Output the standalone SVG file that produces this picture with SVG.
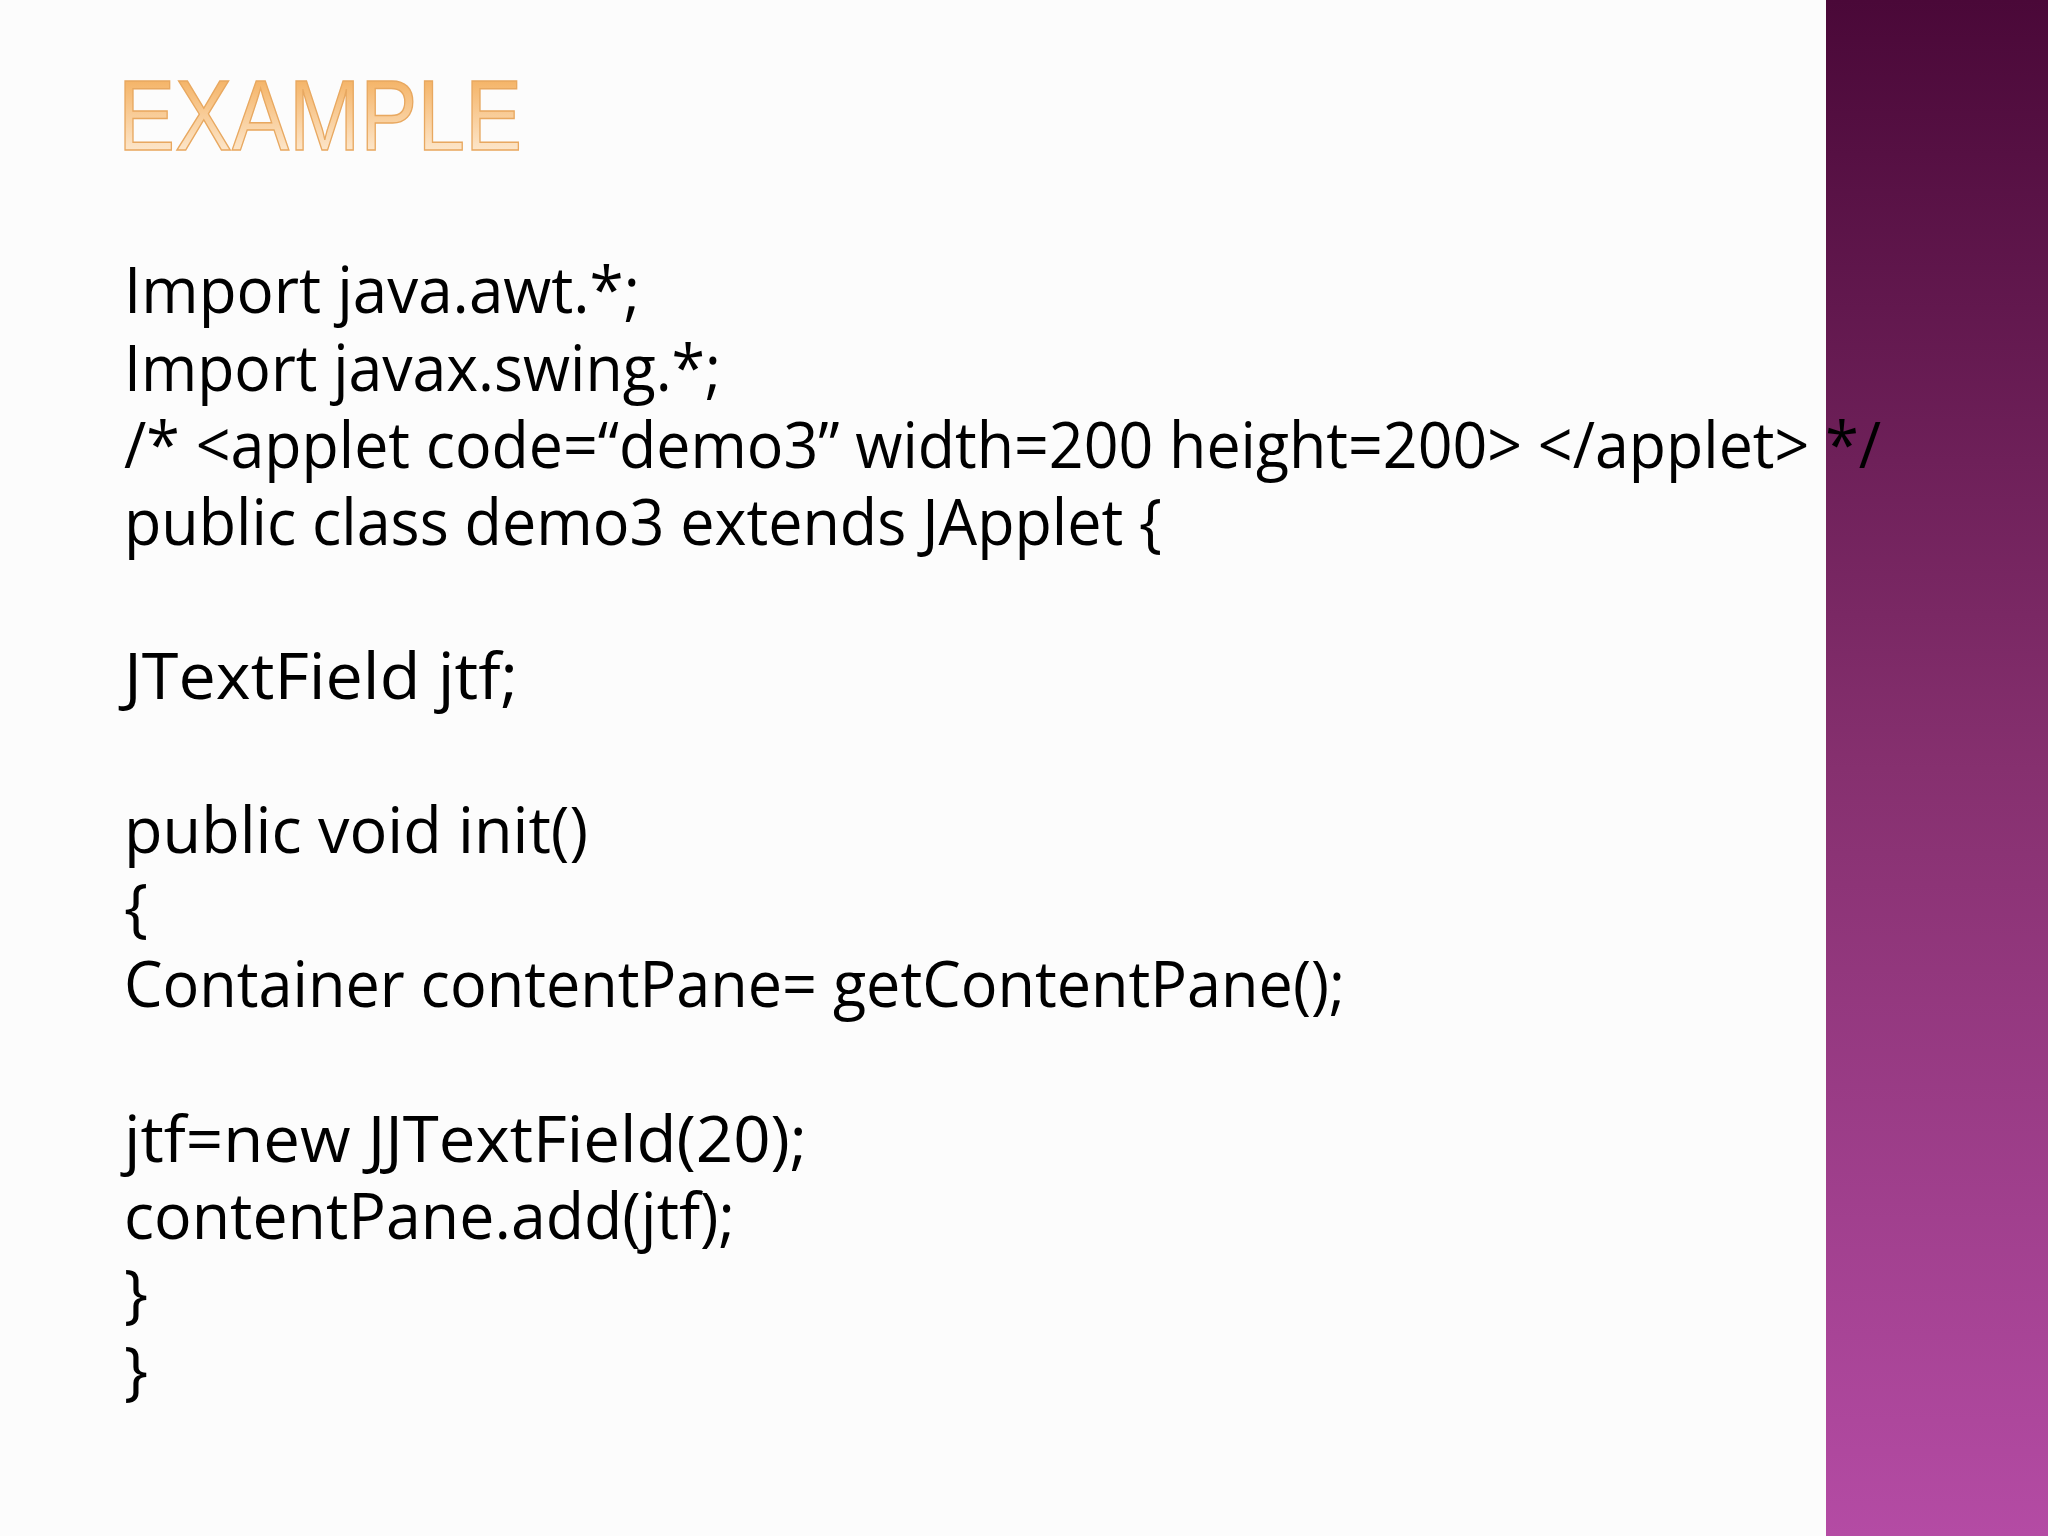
<svg xmlns="http://www.w3.org/2000/svg" width="2048" height="1536" viewBox="0 0 2048 1536">
<defs>
<linearGradient id="band" x1="0" y1="0" x2="0" y2="1">
<stop offset="0" stop-color="#4a0838"/>
<stop offset="0.5" stop-color="#86306f"/>
<stop offset="1" stop-color="#b44ba4"/>
</linearGradient>
<linearGradient id="title" x1="0" y1="0" x2="0" y2="1">
<stop offset="0" stop-color="#f2a54a"/>
<stop offset="1" stop-color="#fff4e6"/>
</linearGradient>
<style>
.code{font-family:"Open Sans","Liberation Sans",sans-serif;font-size:64px;fill:#000}
</style>
</defs>
<rect width="2048" height="1536" fill="#fcfcfc"/>
<rect x="1826" y="0" width="222" height="1536" fill="url(#band)"/>
<g id="title-node">
<text x="118" y="150" font-family="'Liberation Sans',sans-serif" font-size="100" fill="url(#title)" stroke="#e8a860" stroke-width="1.5" textLength="404" lengthAdjust="spacingAndGlyphs">EXAMPLE</text>
</g>
<g id="code">
<text class="code" x="124" y="313" textLength="516" lengthAdjust="spacingAndGlyphs">Import java.awt.*;</text>
<text class="code" x="124" y="391" textLength="597" lengthAdjust="spacingAndGlyphs">Import javax.swing.*;</text>
<text class="code" x="124" y="468" textLength="1757" lengthAdjust="spacingAndGlyphs">/* &lt;applet code=“demo3” width=200 height=200&gt; &lt;/applet&gt; */</text>
<text class="code" x="124" y="545" textLength="1038" lengthAdjust="spacingAndGlyphs">public class demo3 extends JApplet {</text>
<text class="code" x="124" y="699" textLength="394" lengthAdjust="spacingAndGlyphs">JTextField jtf;</text>
<text class="code" x="124" y="853" textLength="464" lengthAdjust="spacingAndGlyphs">public void init()</text>
<text class="code" x="124" y="930">{</text>
<text class="code" x="124" y="1007" textLength="1221" lengthAdjust="spacingAndGlyphs">Container contentPane=  getContentPane();</text>
<text class="code" x="124" y="1162" textLength="683" lengthAdjust="spacingAndGlyphs">jtf=new JJTextField(20);</text>
<text class="code" x="124" y="1239" textLength="611" lengthAdjust="spacingAndGlyphs">contentPane.add(jtf);</text>
<text class="code" x="124" y="1316">}</text>
<text class="code" x="124" y="1393">}</text>
</g>
</svg>
